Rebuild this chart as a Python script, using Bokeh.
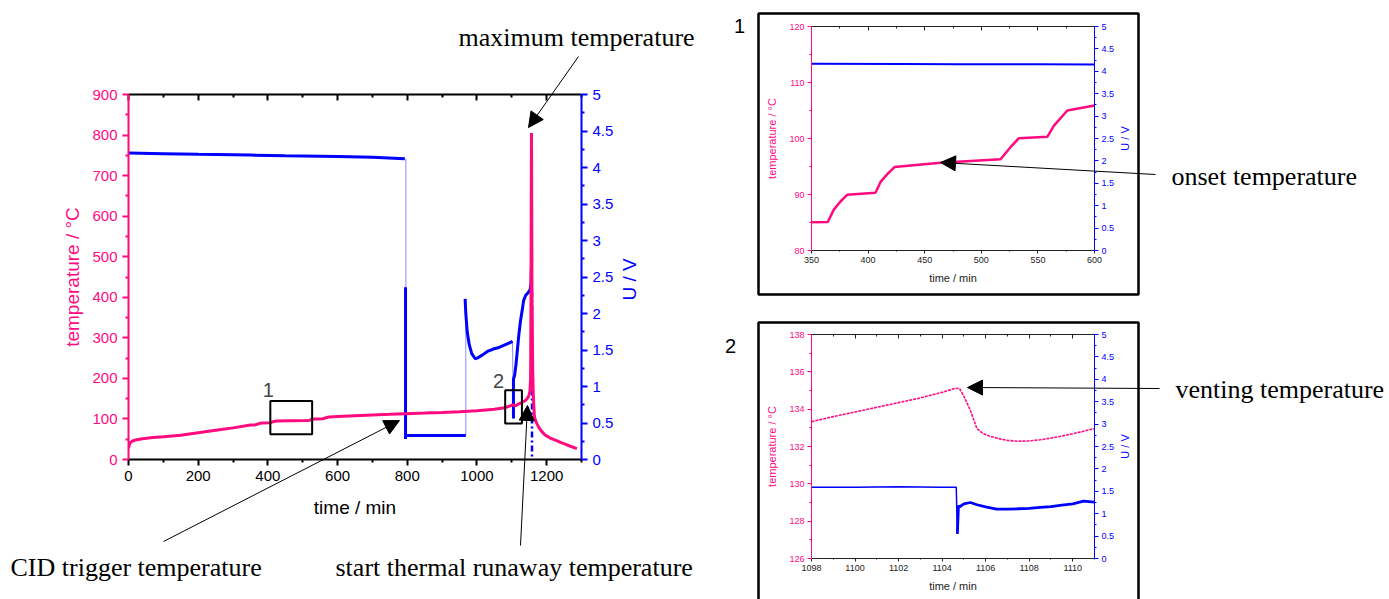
import math
from bokeh.plotting import figure
from bokeh.models import (LinearAxis, Range1d, Label, Arrow, NormalHead,
                          FixedTicker, CustomJSTickFormatter)
from bokeh.layouts import row, column
from bokeh.embed import file_html
from bokeh.resources import INLINE

PINK = "#FF0A7F"
BLUE = "#0000FF"
LIGHT_BLUE = "#8C8CFF"
SANS = "Liberation Sans"
SERIF = "Liberation Serif"

# ---------------- main chart data ----------------
t_main = [0, 2, 5, 10, 20, 40, 70, 100, 150, 200, 250, 300, 350, 364, 370, 376, 382, 407, 411, 417,
          424, 465, 518, 526, 533, 558, 564, 576, 600, 650, 700, 750, 795, 850, 900, 950, 1000, 1050,
          1080, 1104.7, 1107.5, 1111, 1120, 1130, 1140, 1148, 1152, 1154, 1155, 1156, 1156.5, 1158,
          1160, 1162, 1165, 1170, 1177, 1185, 1196, 1210, 1225, 1240, 1253, 1270, 1287]
temp_main = [28, 36, 41, 45, 48, 51, 54, 56, 60, 66, 72, 78, 85, 85.1, 87.3, 88.8, 90, 90.4, 92.2, 93.6,
             95, 95.7, 96.4, 98.5, 100, 100.3, 102.3, 105, 106, 108, 110, 111.5, 113, 114.5, 116, 118,
             120.5, 124, 127.5, 135.1, 132.3, 133, 137, 141, 146, 155, 168, 200, 400, 700, 805, 400,
             220, 150, 105, 92, 80, 70, 60, 53, 47.5, 42, 37.7, 32, 27]

# voltage, thick segments
tA = [0, 100, 200, 350, 450, 600, 700, 793]
vA = [4.20, 4.19, 4.18, 4.17, 4.16, 4.15, 4.14, 4.12]
tB = [795, 795]
vB = [2.36, 0.28]
tC = [796, 968]
vC = [0.33, 0.33]
tD = [966, 968, 972, 978, 985, 995, 1005, 1015, 1030, 1045, 1060, 1080, 1095, 1102]
vD = [2.20, 2.00, 1.75, 1.57, 1.45, 1.38, 1.40, 1.43, 1.48, 1.51, 1.53, 1.57, 1.60, 1.62]
tE = [1104.7, 1104.7, 1108, 1112, 1116, 1120, 1125, 1130, 1134, 1140, 1146, 1152, 1155, 1157]
vE = [0.56, 1.10, 1.15, 1.30, 1.50, 1.70, 1.90, 2.05, 2.18, 2.25, 2.28, 2.32, 2.40, 2.75]
# thin connectors
tc1, vc1 = [796, 796], [4.12, 0.33]
tc2, vc2 = [968, 968], [0.33, 2.20]
tc3, vc3 = [1102, 1104.7], [1.62, 0.56]
# voltage collapse (dotted)
tF, vF = [1158, 1158], [2.30, 0.0]

# zoom-region boxes: left, right, bottom, top
box1 = [407, 527, 62, 144]
box2 = [1081, 1129, 89, 171]

# ---------------- inset 1 data ----------------
t_in1 = [350, 364.4, 369.7, 375.6, 381.5, 406.5, 410.9, 416.8, 423.3, 464, 517, 525.8, 533.2,
         558.3, 564.2, 576, 600]
temp_in1 = [85.06, 85.1, 87.3, 88.75, 89.94, 90.3, 92.2, 93.6, 94.9, 95.66, 96.3, 98.45, 100.05,
            100.3, 102.3, 105.0, 105.9]
tv_in1 = [350, 430, 480, 550, 600]
v_in1 = [4.17, 4.165, 4.16, 4.155, 4.15]

# ---------------- inset 2 data ----------------
t_in2 = [1098, 1099, 1100, 1101, 1102, 1103, 1104, 1104.6, 1104.8, 1105.0, 1105.3, 1105.6, 1105.9,
         1106.2, 1106.6, 1107.0, 1107.5, 1108.0, 1108.5, 1109.0, 1109.5, 1110.0, 1110.5, 1111.0]
temp_in2 = [133.33, 133.6, 133.85, 134.1, 134.35, 134.6, 134.9, 135.12, 135.1, 134.7, 133.93, 132.95,
            132.68, 132.55, 132.42, 132.33, 132.28, 132.3, 132.36, 132.45, 132.56, 132.68, 132.82, 132.96]
# voltage before venting
tv_in2_pre = [1098, 1100, 1102, 1104, 1104.65, 1104.7]
v_in2_pre = [1.59, 1.59, 1.60, 1.59, 1.59, 0.55]
# voltage after venting
tv_in2_post = [1104.7, 1104.75, 1104.8, 1105.0, 1105.3, 1105.6, 1106.0, 1106.5, 1107.0, 1107.5,
               1108.0, 1108.5, 1109.0, 1109.5, 1110.0, 1110.5, 1111.0]
v_in2_post = [0.55, 1.18, 1.15, 1.22, 1.25, 1.20, 1.15, 1.10, 1.10, 1.11, 1.12, 1.14, 1.16, 1.19,
              1.22, 1.28, 1.26]

# tick labels
x_ticks_main = [0, 200, 400, 600, 800, 1000, 1200]
y_ticks_main = [0, 100, 200, 300, 400, 500, 600, 700, 800, 900]
v_ticks = [0, 0.5, 1, 1.5, 2, 2.5, 3, 3.5, 4, 4.5, 5]
x_ticks_in1 = [350, 400, 450, 500, 550, 600]
y_ticks_in1 = [80, 90, 100, 110, 120]
x_ticks_in2 = [1098, 1100, 1102, 1104, 1106, 1108, 1110]
y_ticks_in2 = [126, 128, 130, 132, 134, 136, 138]

FMT = CustomJSTickFormatter(code="return String(Math.round(tick*100)/100);")
NOFMT = CustomJSTickFormatter(code="return '';")


def minors(ticks, n_between, extend_to=None):
    out = []
    for a, b in zip(ticks[:-1], ticks[1:]):
        step = (b - a) / (n_between + 1)
        for k in range(1, n_between + 1):
            out.append(a + k * step)
    if extend_to is not None:
        step = (ticks[1] - ticks[0]) / (n_between + 1)
        v = ticks[-1] + step
        while v <= extend_to + 1e-9:
            out.append(v)
            v += step
    return out


def style_axis(ax, color, title, ticks, minor, lab_size, title_size, tin, tout, lstand, tstand, lw):
    ax.ticker = FixedTicker(ticks=ticks, minor_ticks=minor)
    ax.formatter = FMT
    ax.axis_line_color = color
    ax.axis_line_width = lw
    ax.major_tick_line_color = color
    ax.minor_tick_line_color = color
    ax.major_tick_line_width = lw
    ax.minor_tick_line_width = lw
    ax.major_tick_in = tin
    ax.major_tick_out = tout
    ax.minor_tick_in = tin // 2 if tin else 0
    ax.minor_tick_out = tout // 2 if tout else 0
    ax.major_label_text_color = color
    ax.major_label_text_font = SANS
    ax.major_label_text_font_size = lab_size
    ax.major_label_standoff = lstand
    ax.axis_label = title if title else None
    ax.axis_label_text_color = color
    ax.axis_label_text_font = SANS
    ax.axis_label_text_font_size = title_size
    ax.axis_label_text_font_style = "normal"
    ax.axis_label_standoff = tstand


def make_fig(width, height, xr, yr, vr, left, right, top, bottom):
    p = figure(width=width, height=height, x_range=Range1d(*xr), y_range=Range1d(*yr),
               output_backend="svg", toolbar_location=None,
               min_border_left=left, min_border_right=right,
               min_border_top=top, min_border_bottom=bottom)
    p.extra_y_ranges = {"volt": Range1d(*vr)}
    p.add_layout(LinearAxis(y_range_name="volt"), "right")
    p.add_layout(LinearAxis(), "above")
    p.xgrid.visible = False
    p.ygrid.visible = False
    p.outline_line_color = None
    return p


# ---------------- main figure ----------------
main = make_fig(720, 599, (0, 1300), (0, 900), (0, 5), 128, 139, 94, 140)
bx, tx = main.below[0], main.above[0]
ly, ry = main.left[0], main.right[0]
style_axis(bx, "black", "time / min", x_ticks_main, minors(x_ticks_main, 1, 1300), "15px", "19px", 0, 6, 5, 13, 2)
style_axis(tx, "black", "", x_ticks_main, minors(x_ticks_main, 1, 1300), "15px", "19px", 6, 0, 5, 0, 2)
tx.formatter = NOFMT
style_axis(ly, PINK, "temperature / °C", y_ticks_main, minors(y_ticks_main, 1), "15px", "19px", 0, 6, 5, 6, 2)
style_axis(ry, BLUE, "", v_ticks, minors(v_ticks, 1), "15px", "19px", 0, 6, 5, 8, 2)

main.line(tc1, vc1, y_range_name="volt", color=LIGHT_BLUE, line_width=1)
main.line(tc2, vc2, y_range_name="volt", color=LIGHT_BLUE, line_width=1)
main.line(tc3, vc3, y_range_name="volt", color=LIGHT_BLUE, line_width=1)
for tt, vv in [(tA, vA), (tB, vB), (tC, vC), (tD, vD), (tE, vE)]:
    main.line(tt, vv, y_range_name="volt", color=BLUE, line_width=3)
main.line(tF, vF, y_range_name="volt", color=BLUE, line_width=2.5, line_dash="6 3 2 3")
main.line(t_main, temp_main, color=PINK, line_width=3)
for b in (box1, box2):
    main.quad(left=[b[0]], right=[b[1]], bottom=[b[2]], top=[b[3]], fill_color=None,
              line_color="black", line_width=2)
main.add_layout(Label(x=box1[0] - 6, y=box1[3] + 10, text="1", text_font=SANS, text_font_size="20px",
                      text_align="center", text_baseline="bottom"))
main.add_layout(Label(x=box2[0] - 19, y=box2[3] + 5, text="2", text_font=SANS, text_font_size="20px",
                      text_align="center", text_baseline="bottom"))

# ---------------- inset 1 ----------------
in1 = make_fig(669, 300, (350, 600), (80, 120), (0, 5), 91, 295, 26, 50)
style_axis(in1.below[0], "#222222", "time / min", x_ticks_in1, minors(x_ticks_in1, 1), "9px", "11px", 0, 3, 3, 6, 1)
style_axis(in1.above[0], "#222222", "", x_ticks_in1, minors(x_ticks_in1, 1), "9px", "11px", 4, 0, 3, 0, 1)
in1.above[0].formatter = NOFMT
style_axis(in1.left[0], PINK, "temperature / °C", y_ticks_in1, minors(y_ticks_in1, 1), "9px", "11px", 0, 4, 3, 8, 1)
style_axis(in1.right[0], BLUE, "", v_ticks, minors(v_ticks, 1), "9px", "11px", 0, 4, 3, 3, 1)
in1.line(tv_in1, v_in1, y_range_name="volt", color=BLUE, line_width=2)
in1.line(t_in1, temp_in1, color=PINK, line_width=2.5)

# ---------------- inset 2 ----------------
in2 = make_fig(669, 299, (1098, 1111), (126, 138), (0, 5), 91, 295, 34, 41)
style_axis(in2.below[0], "#222222", "time / min", x_ticks_in2, minors(x_ticks_in2, 1, 1111), "9px", "11px", 0, 3, 3, 6, 1)
style_axis(in2.above[0], "#222222", "", x_ticks_in2, minors(x_ticks_in2, 1, 1111), "9px", "11px", 4, 0, 3, 0, 1)
in2.above[0].formatter = NOFMT
style_axis(in2.left[0], PINK, "temperature / °C", y_ticks_in2, minors(y_ticks_in2, 1), "9px", "11px", 0, 4, 3, 8, 1)
style_axis(in2.right[0], BLUE, "", v_ticks, minors(v_ticks, 1), "9px", "11px", 0, 4, 3, 3, 1)
in2.line(tv_in2_pre, v_in2_pre, y_range_name="volt", color=BLUE, line_width=1.5)
in2.line(tv_in2_post, v_in2_post, y_range_name="volt", color=BLUE, line_width=2.8)
in2.line(t_in2, temp_in2, color=PINK, line_width=1.6, line_dash="3 1")

layout = row(main, column(in1, in2))

# ---------------- annotation overlay (page pixel coordinates, y downward) ----------------
ov = figure(width=1389, height=599, x_range=Range1d(0, 1389), y_range=Range1d(599, 0),
            output_backend="svg", toolbar_location=None, min_border=0,
            x_axis_location=None, y_axis_location=None,
            background_fill_color=None, border_fill_color=None, outline_line_color=None,
            styles={"position": "absolute", "left": "0px", "top": "0px"})
ov.xgrid.visible = False
ov.ygrid.visible = False


def ov_label(X, Y, text, size, font=SERIF, align="left", color="black", angle=0.0):
    ov.add_layout(Label(x=X, y=Y, text=text, text_font=font, text_font_size=size, text_align=align,
                        text_baseline="middle", text_color=color, angle=angle))


def ov_arrow(X0, Y0, X1, Y1, head=True, lw=1.0):
    end = NormalHead(size=15, fill_color="black", line_color="black") if head else None
    ov.add_layout(Arrow(end=end, x_start=X0, y_start=Y0, x_end=X1, y_end=Y1,
                        line_color="black", line_width=lw))


# inset frames
ov.quad(left=[758, 758], right=[1138, 1138], top=[13, 322], bottom=[294, 640],
        fill_color=None, line_color="black", line_width=2.5)

ov_label(629, 279, "U / V", "19px", font=SANS, align="center", color=BLUE, angle=math.pi / 2)
ov_label(1124, 138, "U / V", "11px", font=SANS, align="center", color=BLUE, angle=math.pi / 2)
ov_label(1124, 446, "U / V", "11px", font=SANS, align="center", color=BLUE, angle=math.pi / 2)
ov_label(739, 25, "1", "20px", font=SANS, align="center")
ov_label(730, 345, "2", "20px", font=SANS, align="center")

ov_label(458, 37, "maximum temperature", "26px")
ov_label(10, 567, "CID trigger temperature", "26px")
ov_label(335, 567, "start thermal runaway temperature", "26px")
ov_label(1171, 176, "onset temperature", "26px")
ov_label(1175, 389, "venting temperature", "26px")

ov_arrow(578, 56, 528, 127)
ov_arrow(163, 541, 399, 420)
ov_arrow(520, 545, 527, 405)
ov_arrow(1155, 174, 940, 162)
ov_arrow(1159, 388, 967, 387)

open("out.html", "w").write(file_html([layout, ov], INLINE))
